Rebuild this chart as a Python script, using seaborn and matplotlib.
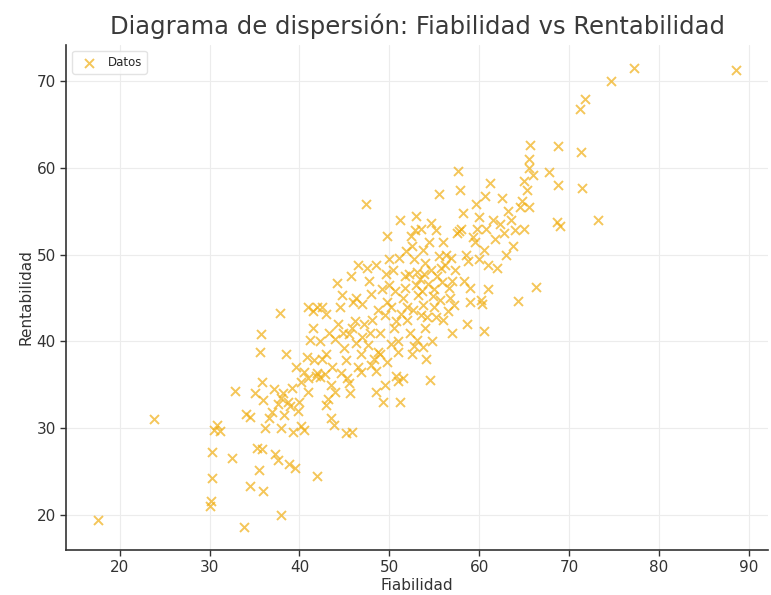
import numpy as np
import pandas as pd
import matplotlib
matplotlib.use("Agg")
import matplotlib.pyplot as plt
import seaborn as sns

fiabilidad = [
    17.6, 23.8, 30.0, 30.2, 30.3, 30.3, 30.5, 30.8, 31.2, 32.5, 32.8, 33.8, 34.0, 34.5, 34.5, 35.0,
    35.3, 35.8, 35.5, 36.0, 35.7, 35.6, 35.8, 36.2, 37.0, 37.3, 37.6, 37.8, 38.0, 38.5,
    38.0, 38.2, 38.7, 39.0, 38.3, 38.0, 38.8, 39.5, 39.3, 39.8, 40.0, 40.2, 40.5,
    40.5, 40.8, 41.0, 41.0, 41.5, 42.0, 42.5, 41.2, 41.5, 41.8, 42.0, 42.3, 42.0,
    42.5, 43.0, 43.2, 43.0, 43.5, 43.8, 43.5, 44.0, 44.3, 44.5, 44.7, 44.9, 45.0,
    45.3, 45.5, 45.6, 45.8, 45.2, 45.5, 45.8, 46.0, 46.3, 46.5, 46.8, 47.0, 47.2,
    47.4, 47.5, 47.8, 48.0, 48.5, 48.0, 48.3, 48.5, 48.8, 49.0, 48.5, 49.3, 49.5,
    49.0, 49.5, 49.8, 50.0, 49.8, 50.0, 50.5, 50.8, 51.0, 51.0, 50.8, 51.0, 51.2, 51.5,
    51.2, 51.5, 51.8, 52.0, 52.0, 52.3, 52.5, 52.8, 52.5, 52.8, 53.0, 53.2,
    53.0, 53.5, 53.8, 54.0, 53.5, 53.8, 54.0, 54.2, 54.5, 54.8, 55.0,
    55.0, 55.3, 55.5, 55.8, 55.5, 56.0, 56.3, 56.0, 56.5, 56.8, 57.0,
    57.0, 57.3, 57.5, 57.8, 57.7, 57.9, 58.2, 58.0, 58.3, 58.5, 58.8, 59.0,
    59.3, 59.5, 59.8, 60.0, 60.2, 60.3, 60.5, 60.0, 60.5, 60.8, 61.0, 61.2,
    61.5, 61.8, 62.0, 62.3, 62.8, 63.0, 63.5, 63.8, 64.0, 64.5, 64.8, 64.3,
    65.0, 65.3, 65.5, 65.6, 65.7, 65.0, 65.5, 66.0, 66.3, 67.8, 68.8, 68.8, 68.7, 69.0,
    71.2, 71.3, 71.5, 71.8, 73.2, 74.7, 77.2, 88.6,
    50.2, 50.6, 51.3, 51.7, 52.2, 52.6, 53.1, 53.4, 53.6, 53.9, 54.3, 54.6, 54.9, 55.2,
    55.6, 55.9, 56.2, 56.6, 56.9, 57.2, 49.2, 49.6, 50.4, 51.1, 51.9, 52.4, 52.9, 54.4,
    54.7, 55.2, 53.1, 53.7, 54.1, 50.2, 49.7, 47.6, 47.0, 46.2, 45.2, 44.6, 44.0, 43.6,
    42.8, 42.3, 41.6, 40.9, 40.2, 39.6, 39.2, 37.6, 37.2, 36.6, 36.0, 46.3, 46.9, 48.1,
    48.7, 47.9, 59.0, 58.7, 62.5, 63.2, 61.0, 59.6, 60.7, 44.2, 45.7, 46.5, 43.3, 43.0,
]

rentabilidad = [
    19.4, 31.0, 21.0, 21.6, 24.2, 27.2, 29.8, 30.4, 29.6, 26.5, 34.3, 18.6, 31.6, 31.3, 23.3, 34.0,
    27.7, 27.6, 25.2, 22.7, 40.8, 38.8, 35.3, 30.0, 31.8, 27.0, 26.3, 43.3, 20.0, 38.5,
    33.5, 34.0, 33.0, 32.5, 31.5, 30.0, 25.9, 25.4, 29.5, 32.0, 33.0, 30.2, 29.8,
    36.5, 38.2, 35.8, 44.0, 43.5, 44.0, 44.0, 40.2, 41.5, 36.0, 36.4, 35.9, 24.5,
    38.0, 38.5, 33.4, 32.6, 31.2, 30.4, 35.0, 40.3, 42.0, 43.9, 45.3, 41.0, 39.2,
    35.8, 35.2, 34.0, 29.5, 29.4, 40.8, 41.5, 44.5, 45.0, 37.0, 36.5, 40.5, 42.0,
    55.8, 48.5, 47.0, 45.5, 48.8, 37.3, 38.0, 36.6, 38.8, 38.5, 34.2, 33.0, 35.0,
    41.0, 43.0, 44.5, 46.5, 52.2, 49.5, 41.5, 42.3, 40.0, 38.8, 36.0, 35.4, 33.0, 35.8,
    54.0, 45.0, 47.5, 44.0, 42.5, 41.0, 38.5, 39.5, 51.0, 49.5, 46.5, 45.3,
    54.5, 53.0, 50.5, 49.0, 43.0, 44.2, 41.5, 42.8, 35.5, 40.0, 44.0,
    46.0, 47.5, 49.8, 48.5, 57.0, 51.5, 50.0, 42.5, 43.5, 45.0, 41.0,
    47.0, 48.2, 52.5, 52.7, 59.6, 57.4, 54.8, 53.0, 47.0, 50.0, 49.3, 46.2,
    52.0, 51.5, 53.0, 54.3, 44.8, 44.3, 41.2, 49.5, 50.5, 53.0, 48.8, 58.2,
    54.0, 51.8, 48.5, 53.5, 52.5, 50.0, 54.0, 51.0, 52.8, 55.5, 56.2, 44.7,
    58.5, 57.5, 60.0, 61.0, 62.6, 53.0, 55.5, 59.2, 46.3, 59.5, 62.5, 58.0, 53.8, 53.3,
    66.8, 61.8, 57.7, 68.0, 54.0, 70.0, 71.5, 71.3,
    44.0, 45.8, 43.2, 46.2, 47.8, 43.6, 48.0, 47.2, 45.8, 47.8, 46.6, 48.2, 45.2, 42.8,
    44.8, 46.8, 48.8, 46.2, 49.6, 44.2, 46.0, 47.8, 48.2, 49.6, 50.4, 52.2, 52.8, 51.5,
    53.6, 52.8, 40.2, 39.3, 38.0, 39.7, 37.6, 39.6, 44.3, 42.3, 37.8, 36.3, 34.2, 37.0,
    36.2, 40.0, 37.8, 34.2, 35.3, 37.0, 34.6, 32.8, 34.5, 31.2, 33.2, 39.8, 38.5, 42.5,
    43.6, 40.9, 44.5, 42.0, 56.5, 55.0, 46.0, 55.8, 56.8, 46.7, 47.5, 48.8, 41.0, 43.2,
]

df = pd.DataFrame({"Fiabilidad": fiabilidad, "Rentabilidad": rentabilidad})

sns.set_theme(style="whitegrid")
plt.rcParams["font.family"] = ["DejaVu Sans"]

fig = plt.figure(figsize=(7.71, 5.95), dpi=100)
ax = fig.add_axes([0.086, 0.076, 0.910, 0.848])

sns.scatterplot(data=df, x="Fiabilidad", y="Rentabilidad", ax=ax, marker="x",
                color="#f0ae14", s=42, linewidth=1.4, alpha=0.7, label="Datos")

ax.set_title("Diagrama de dispersión: Fiabilidad vs Rentabilidad", fontsize=17.5, color="#3a3a3a", pad=8)
ax.set_xlabel("Fiabilidad", fontsize=11, color="#333333", labelpad=2)
ax.set_ylabel("Rentabilidad", fontsize=11, color="#333333", labelpad=2)
ax.set_xticks([20, 30, 40, 50, 60, 70, 80, 90])
ax.set_yticks([20, 30, 40, 50, 60, 70])
ax.tick_params(axis="both", labelsize=11, colors="#333333", length=4, width=1, direction="out",
               left=True, bottom=True)
ax.grid(True, color="#ececec", linewidth=0.8)
for s in ["top", "right"]:
    ax.spines[s].set_visible(False)
for s in ["left", "bottom"]:
    ax.spines[s].set_color("#333333")
    ax.spines[s].set_linewidth(1.2)
ax.set_facecolor("white")
leg = ax.legend(loc="upper left", fontsize=8.5, frameon=True, borderpad=0.4, handletextpad=0.6)
leg.get_frame().set_edgecolor("#dddddd")

fig.savefig("out.png", dpi=100)
